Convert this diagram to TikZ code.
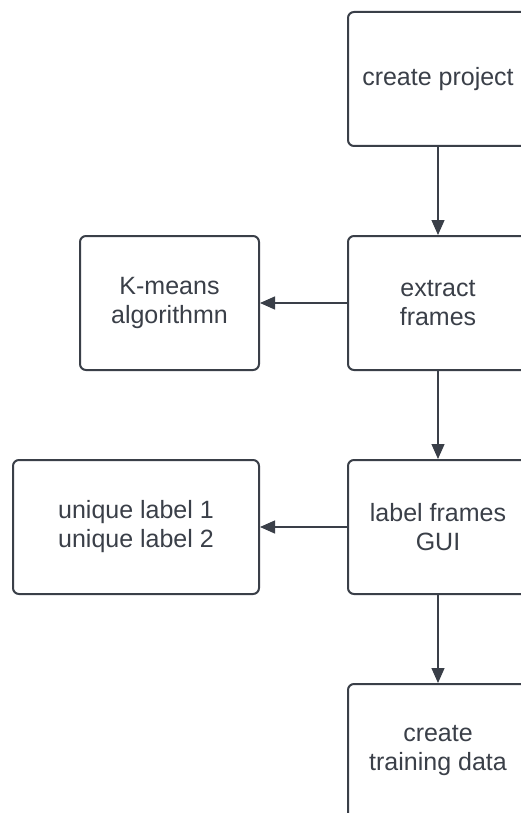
\documentclass[tikz,border=0pt]{standalone}
\usepackage{fontspec}
\setmainfont{Liberation Sans}
\usetikzlibrary{arrows.meta}
\definecolor{ink}{HTML}{3A3F48}
\tikzset{
  box/.style={draw=ink, line width=2pt, rounded corners=6pt, fill=white,
    text=ink, align=center, inner sep=0pt,
    font=\fontsize{25}{29}\selectfont, minimum height=134pt},
  link/.style={draw=ink, line width=1.3pt, -{Triangle[length=15pt,width=13pt]}}
}
\begin{document}
\begin{tikzpicture}[x=1pt,y=-1pt]
\useasboundingbox (0,0) rectangle (521,813);
\clip (0,0) rectangle (521,813);
\fill[white] (0,0) rectangle (521,813);
\node[box, minimum width=180pt] (cp) at (438,79) {create project};
\node[box, minimum width=180pt] (ef) at (438,303) {extract\\frames};
\node[box, minimum width=180pt] (lf) at (438,527) {label frames\\GUI};
\node[box, minimum width=180pt] (td) at (438,751) {create\\training data};
\node[box, minimum width=179pt] (km) at (169.5,303) {K-means\\algorithmn};
\node[box, minimum width=246pt] (ul) at (136,527) {unique label 1\\unique label 2};
\draw[link] (cp) -- (ef);
\draw[link] (ef) -- (lf);
\draw[link] (lf) -- (td);
\draw[link] (ef) -- (km);
\draw[link] (lf) -- (ul);
\end{tikzpicture}
\end{document}
